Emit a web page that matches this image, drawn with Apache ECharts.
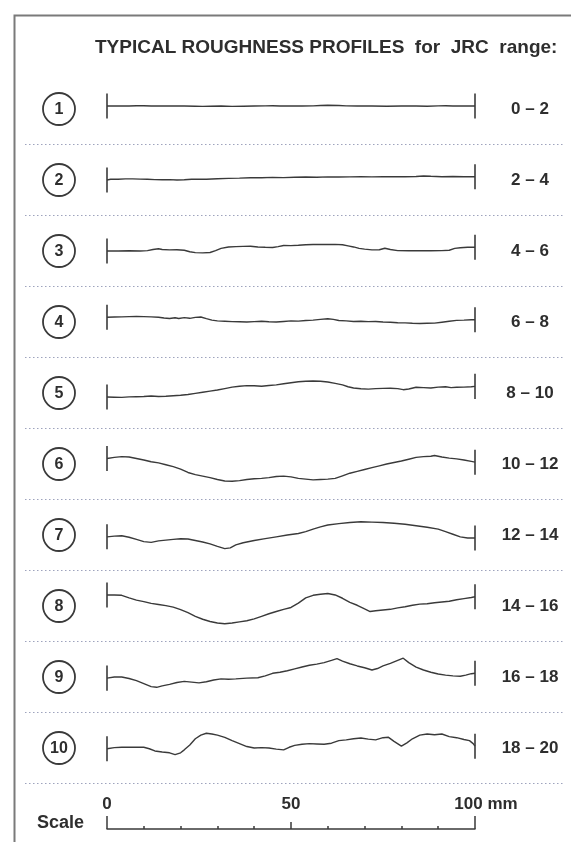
<!DOCTYPE html>
<html style="height: 100%">
<head>
    <meta charset="utf-8">
</head>
<body style="height: 100%; margin: 0; background: #fff">
<div id="container" style="width:571px; height:842px"></div>
<script type="text/javascript" src="https://cdn.jsdelivr.net/npm/echarts@6.0.0/dist/echarts.min.js"></script>
<script type="text/javascript">

    // profile readings: [distance mm, height mm], height relative to the row's circle
    var p1 = [[0,0.8],[3,0.8],[6,0.8],[8,0.9],[10,0.9],[12,0.8],[15,0.8],[18,0.8],[21,0.8],[24,0.75],[26,0.7],[28,0.75],[31,0.8],[34,0.7],[37,0.75],[40,0.8],[43,0.85],[45,0.9],[47,0.8],[50,0.8],[53,0.8],[56,0.85],[58,0.95],[60,1.0],[63,0.95],[65,0.85],[68,0.8],[72,0.8],[76,0.75],[80,0.8],[84,0.8],[87,0.75],[90,0.85],[92,0.9],[94,0.8],[97,0.8],[100,0.8]];
    var p2 = [[0,0.0],[1,0.2],[3,0.2],[5,0.3],[7,0.3],[9,0.25],[11,0.2],[13,0.1],[15,0.05],[17,0.1],[19,0.0],[21,0.05],[23,0.2],[25,0.25],[27,0.2],[30,0.35],[33,0.45],[36,0.5],[39,0.6],[42,0.6],[45,0.7],[48,0.65],[51,0.75],[54,0.8],[57,0.75],[60,0.85],[63,0.8],[66,0.85],[69,0.9],[72,0.85],[75,0.9],[78,0.9],[81,0.9],[84,0.95],[86,1.1],[88,1.0],[91,0.9],[94,0.95],[97,0.9],[100,0.9]];
    var p3 = [[0,0.0],[3,0.0],[6,0.05],[9,0.0],[11,0.1],[12.5,0.4],[14,0.6],[15,0.4],[17,0.3],[19,0.35],[21,0.2],[22.5,-0.2],[24,-0.45],[26,-0.5],[28,-0.4],[29.5,0.1],[31,0.7],[33,1.1],[35,1.2],[37,1.25],[39,1.3],[41,1.1],[43,1.0],[45,0.95],[46.5,1.2],[48,1.5],[50,1.45],[52,1.55],[54,1.7],[56,1.75],[58,1.8],[60,1.75],[62,1.8],[64,1.7],[65.5,1.4],[67,1.1],[68.5,0.7],[70,0.5],[72,0.3],[74,0.35],[75.5,0.75],[77,0.4],[79,0.1],[82,0.05],[85,0.1],[88,0.05],[91,0.1],[93,0.2],[94.5,0.7],[96,0.9],[98,1.0],[100,1.0]];
    var p4 = [[0,1.3],[2,1.35],[4,1.4],[6,1.45],[8,1.5],[10,1.45],[12,1.4],[14,1.3],[15.5,1.1],[17,0.95],[18.5,1.15],[19.5,0.95],[21,1.2],[22.5,1.0],[24,1.25],[25.5,1.35],[27,0.9],[28.5,0.5],[30,0.3],[32,0.2],[34,0.1],[36,0.05],[38,0.0],[40,0.1],[42,0.2],[44,0.05],[46,0.0],[48,0.15],[50,0.3],[52,0.25],[54,0.4],[56,0.5],[58,0.7],[60,0.9],[61.5,0.7],[63,0.4],[65,0.3],[67,0.15],[69,0.2],[71,0.1],[73,0.15],[75,0.0],[77,-0.05],[79,-0.2],[81,-0.25],[83,-0.35],[85,-0.4],[87,-0.35],[89,-0.3],[91,-0.05],[93,0.2],[95,0.45],[97,0.5],[99,0.6],[100,0.6]];
    var p5 = [[0,-1.1],[2,-1.15],[4,-1.2],[6,-1.05],[8,-1.0],[10,-0.95],[12,-0.8],[14,-0.95],[16,-0.9],[18,-0.75],[20,-0.6],[22,-0.4],[24,-0.1],[26,0.2],[28,0.5],[30,0.8],[32,1.2],[34,1.6],[36,1.85],[38,2.0],[40,1.95],[42,1.85],[44,2.05],[46,2.2],[48,2.5],[50,2.8],[52,3.05],[54,3.2],[56,3.25],[58,3.2],[60,3.0],[62,2.6],[64,2.2],[65.5,1.7],[67,1.35],[69,1.15],[71,1.05],[73,1.2],[75,1.25],[77,1.3],[79,1.2],[80.5,0.9],[82,1.1],[84,1.55],[86,1.45],[88,1.35],[90,1.6],[92,1.7],[93.5,1.45],[95,1.55],[97,1.6],[99,1.7],[100,1.8]];
    var p6 = [[0,1.5],[2,1.8],[4,2.0],[6,1.9],[8,1.5],[10,1.1],[12,0.6],[14,0.3],[16,-0.2],[18,-0.7],[20,-1.4],[22,-2.3],[24,-2.9],[26,-3.3],[28,-3.7],[30,-4.2],[32,-4.6],[34,-4.7],[36,-4.5],[38,-4.2],[40,-4.0],[42,-3.9],[44,-3.7],[46,-3.4],[48,-3.3],[50,-3.5],[52,-3.9],[54,-4.1],[56,-4.3],[58,-4.2],[60,-4.1],[62,-3.9],[64,-3.2],[66,-2.5],[68,-2.0],[70,-1.5],[72,-1.0],[74,-0.5],[76,0.0],[78,0.4],[80,0.8],[82,1.3],[84,1.8],[86,2.0],[88,2.1],[89,2.3],[91,1.9],[93,1.6],[95,1.4],[97,1.1],[99,0.7],[100,0.5]];
    var p7 = [[0,-0.5],[2,-0.3],[4,-0.2],[6,-0.6],[8,-1.2],[10,-1.8],[12,-2.0],[14,-1.6],[16,-1.4],[18,-1.2],[20,-1.0],[22,-1.1],[24,-1.5],[26,-1.9],[28,-2.4],[30,-3.1],[32,-3.7],[33.5,-3.5],[35,-2.7],[37,-2.1],[40,-1.5],[43,-1.0],[46,-0.5],[49,0.0],[52,0.4],[54,0.9],[56,1.6],[58,2.2],[60,2.7],[63,3.1],[66,3.4],[69,3.6],[72,3.5],[75,3.4],[78,3.2],[81,2.9],[84,2.5],[87,2.1],[90,1.6],[92,0.9],[94,0.2],[96,-0.5],[98,-0.8],[100,-0.8]];
    var p8 = [[0,3.0],[2,3.0],[4,2.9],[6,2.2],[8,1.6],[10,1.2],[12,0.7],[14,0.4],[16,0.1],[18,-0.3],[20,-1.0],[22,-1.8],[24,-2.8],[26,-3.6],[28,-4.2],[30,-4.6],[32,-4.8],[34,-4.6],[36,-4.3],[38,-4.0],[40,-3.5],[42,-2.8],[44,-2.1],[46,-1.5],[48,-0.9],[50,-0.4],[52,0.8],[54,2.2],[56,2.9],[58,3.2],[60,3.4],[62,3.0],[64,2.1],[66,1.0],[68,0.2],[70,-0.8],[71.5,-1.5],[73,-1.3],[75,-1.1],[77,-0.9],[79,-0.5],[81,-0.2],[83,0.2],[85,0.5],[87,0.6],[89,0.9],[91,1.1],[93,1.3],[95,1.7],[97,2.0],[99,2.3],[100,2.5]];
    var p9 = [[0,-0.3],[2,0.0],[4,0.0],[6,-0.4],[8,-1.0],[10,-1.8],[12,-2.6],[13.5,-2.8],[15,-2.4],[17,-2.0],[19,-1.5],[21,-1.2],[23,-1.4],[25,-1.6],[27,-1.3],[29,-0.8],[31,-0.5],[33,-0.6],[35,-0.5],[38,-0.3],[41,-0.2],[43,0.3],[45,1.0],[47,1.3],[49,1.7],[51,2.2],[53,2.7],[55,3.2],[57,3.5],[59,3.9],[61,4.5],[62.5,5.0],[64,4.3],[66,3.6],[68,3.0],[70,2.5],[72,1.9],[73.5,2.3],[75,3.0],[77,3.7],[79,4.5],[80.5,5.1],[82,3.9],[84,2.7],[86,1.9],[88,1.3],[90,0.8],[92,0.5],[94,0.3],[96,0.2],[97.5,0.5],[99,0.9],[100,1.0]];
    var p10 = [[0,-0.2],[2,0.1],[4,0.2],[7,0.2],[10,0.2],[11.5,-0.2],[13,-0.8],[15,-1.1],[17,-1.3],[18.5,-1.8],[20,-1.3],[21,-0.5],[22.5,0.8],[24,2.5],[25.5,3.5],[27,4.0],[28.5,3.8],[30,3.5],[32,2.9],[34,2.0],[36,1.2],[38,0.4],[40,0.0],[42,0.1],[44,0.0],[46,-0.3],[48,-0.5],[49.5,0.2],[51,0.7],[53,1.0],[55,1.2],[57,1.1],[59,1.0],[61,1.3],[63,2.0],[65,2.2],[67,2.5],[69,2.7],[71,2.4],[73,2.2],[75,2.8],[76.5,2.9],[78,1.8],[80,0.5],[81.5,1.4],[83,2.5],[85,3.5],[87,3.8],[89,3.6],[91,3.8],[93,3.1],[95,2.8],[97,2.3],[98.5,2.0],[99.5,1.2],[100,0.5]];

    var profiles = [p1, p2, p3, p4, p5, p6, p7, p8, p9, p10];
    var rowNumbers = ['1', '2', '3', '4', '5', '6', '7', '8', '9', '10'];
    var jrcRanges = ['0 – 2', '2 – 4', '4 – 6', '6 – 8', '8 – 10', '10 – 12', '12 – 14', '14 – 16', '16 – 18', '18 – 20'];
    var scaleLabels = {0: '0', 50: '50', 100: '100 mm'};

    var dom = document.getElementById("container");
    var myChart = echarts.init(dom, null, {renderer: 'canvas'});

    var textColor = '#2e2e2e';
    var plotLeft = 107, plotWidth = 368;
    var firstRow = 109, rowStep = 71;

    var grids = [], xAxes = [], yAxes = [], series = [], graphics = [];

    // frame (only top and left edges are visible)
    graphics.push({
        type: 'rect', left: 12, top: 13, silent: true,
        shape: {width: 700, height: 1000},
        style: {fill: 'none', stroke: '#7a7a7a', lineWidth: 2}
    });

    profiles.forEach(function (p, i) {
        var c = firstRow + rowStep * i;
        grids.push({left: plotLeft, width: plotWidth, top: c - 35, height: 70});
        xAxes.push({type: 'value', gridIndex: i, min: 0, max: 100, show: false});
        yAxes.push({type: 'value', gridIndex: i, min: -9.5, max: 9.5, show: false});
        var y0 = p[0][1], y1 = p[p.length - 1][1];
        series.push({
            type: 'line', xAxisIndex: i, yAxisIndex: i,
            data: p, showSymbol: false, clip: false, silent: true,
            lineStyle: {color: '#3a3a3a', width: 1.4},
            markLine: {
                silent: true, symbol: 'none', label: {show: false},
                lineStyle: {color: '#3a3a3a', width: 1.6, type: 'solid'},
                data: [
                    [{coord: [0, y0 - 3.4]}, {coord: [0, y0 + 3.4]}],
                    [{coord: [100, y1 - 3.4]}, {coord: [100, y1 + 3.4]}]
                ]
            }
        });

        // circled number
        graphics.push({
            type: 'circle', silent: true,
            shape: {cx: 59, cy: c, r: 16},
            style: {fill: '#fff', stroke: '#3a3a3a', lineWidth: 1.8}
        });
        graphics.push({
            type: 'text', silent: true, x: 59, y: c + 1,
            style: {text: rowNumbers[i], fill: textColor, font: 'bold 16px "Liberation Sans", Arial', align: 'center', verticalAlign: 'middle'}
        });
        // JRC range
        graphics.push({
            type: 'text', silent: true, x: 530, y: c,
            style: {text: jrcRanges[i], fill: textColor, font: 'bold 17px "Liberation Sans", Arial', align: 'center', verticalAlign: 'middle'}
        });
        // dotted separator
        graphics.push({
            type: 'line', silent: true,
            shape: {x1: 25, y1: c + 35.5, x2: 563, y2: c + 35.5},
            style: {stroke: '#9ea3bd', lineWidth: 1.2, lineDash: [1.5, 2.5]}
        });
    });

    // scale bar
    var s = profiles.length;
    grids.push({left: plotLeft, width: plotWidth, top: 800, height: 29});
    yAxes.push({type: 'value', gridIndex: s, show: false});
    xAxes.push({
        type: 'value', gridIndex: s, min: 0, max: 100, interval: 10, position: 'bottom',
        axisLine: {show: true, lineStyle: {color: '#3a3a3a', width: 1.5}},
        axisTick: {show: true, inside: true, length: 3, lineStyle: {color: '#3a3a3a', width: 1.5}},
        axisLabel: {show: false}, splitLine: {show: false}
    });
    xAxes.push({
        type: 'value', gridIndex: s, min: 0, max: 100, interval: 50, position: 'bottom',
        axisLine: {show: false},
        axisTick: {show: true, inside: true, length: 7, lineStyle: {color: '#3a3a3a', width: 1.5}},
        axisLabel: {
            show: true, inside: true, margin: 16, color: textColor,
            fontFamily: '"Liberation Sans", Arial', fontWeight: 'bold', fontSize: 17,
            formatter: function (v) {
                return v === 100 ? '{s|' + scaleLabels[v] + '}' : scaleLabels[v];
            },
            rich: {s: {padding: [0, 0, 0, 22], fontFamily: '"Liberation Sans", Arial', fontWeight: 'bold', fontSize: 17, color: textColor}}
        },
        splitLine: {show: false}
    });
    xAxes.push({
        type: 'value', gridIndex: s, min: 0, max: 100, interval: 100, position: 'bottom',
        axisLine: {show: false},
        axisTick: {show: true, inside: true, length: 13, lineStyle: {color: '#3a3a3a', width: 1.5}},
        axisLabel: {show: false}, splitLine: {show: false}
    });
    series.push({type: 'line', xAxisIndex: s, yAxisIndex: s, data: []});

    graphics.push({
        type: 'text', silent: true, x: 37, y: 823,
        style: {text: 'Scale', fill: textColor, font: 'bold 18px "Liberation Sans", Arial', verticalAlign: 'middle'}
    });

    var option = {
        animation: false,
        backgroundColor: '#fff',
        title: {
            text: 'TYPICAL ROUGHNESS PROFILES  for  JRC  range:',
            left: 95, top: 38, padding: 0,
            textStyle: {color: textColor, fontFamily: '"Liberation Sans", Arial', fontWeight: 'bold', fontSize: 19}
        },
        grid: grids,
        xAxis: xAxes,
        yAxis: yAxes,
        series: series,
        graphic: graphics
    };

    myChart.setOption(option);

</script>
</body>
</html>
